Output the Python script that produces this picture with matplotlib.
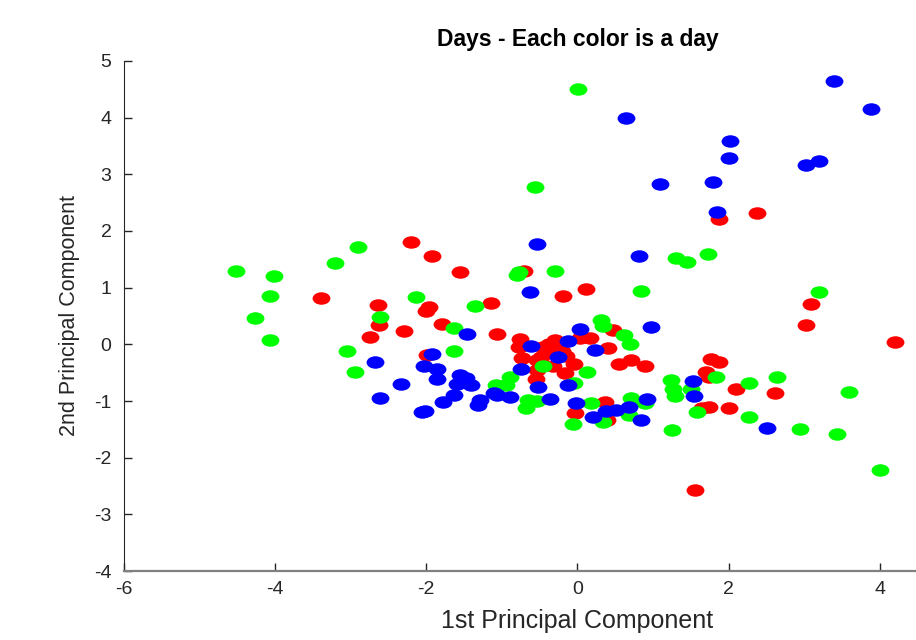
import numpy as np
import matplotlib
matplotlib.use("Agg")
import matplotlib.pyplot as plt
from matplotlib.path import Path
from matplotlib.markers import MarkerStyle
from matplotlib.transforms import Affine2D

plt.rcParams['font.family'] = ['Liberation Sans', 'DejaVu Sans']
plt.rcParams['axes.unicode_minus'] = False

# Day 1 (red)
red_x = [-2.20, -1.93, -1.56, -3.40, -2.64, -1.97, -2.00, -2.62, -2.75, -2.30,
         -1.79, -1.14, -1.07, -1.99, -0.71, -0.19, 0.11, -0.76, -0.77, -0.37,
         -0.26, -0.41, -0.20, -0.15, -0.04, -0.73, -0.54, -0.32, -0.17, -0.55,
         0.04, 0.16, 0.47, 0.40, 0.55, 0.71, 0.89, 0.36, -0.03, 0.39,
         1.77, 1.87, 1.70, 1.74, 2.10, 1.74, 1.65, 2.00, 1.87, 2.37,
         3.09, 3.02, 4.20, 2.61, 1.55, -0.45, -0.30, -0.53, -0.48]
red_y = [1.80, 1.55, 1.28, 0.82, 0.69, 0.65, 0.59, 0.35, 0.13, 0.24,
         0.36, 0.73, 0.19, -0.19, 1.30, 0.85, 0.97, 0.09, -0.04, 0.01,
         0.05, -0.11, -0.11, -0.21, -0.34, -0.24, -0.28, -0.38, -0.51, -0.61,
         0.12, 0.12, 0.25, -0.06, -0.34, -0.28, -0.39, -1.01, -1.22, -1.33,
         -0.26, -0.32, -0.48, -0.57, -0.79, -1.10, -1.12, -1.13, 2.22, 2.31,
         0.71, 0.35, 0.05, -0.85, -2.57, -0.05, 0.08, -0.45, -0.22]

# Day 2 (green)
green_x = [-4.52, -4.01, -4.07, -4.27, -4.07, -2.91, -3.21, -2.13, -2.61, -1.35,
           -1.64, -1.63, -3.05, -2.94, -0.80, -0.77, -0.30, -0.56, 0.01, 0.84,
           1.31, 1.45, 1.73, 3.19, 0.31, 0.34, 0.61, 0.70, -0.46, 0.13,
           -0.04, -0.89, -0.95, -1.08, -0.66, -0.54, -0.68, 0.18, 0.71, 0.68,
           0.34, -0.06, 0.89, 1.24, 1.26, 1.29, 1.50, 1.83, 1.58, 1.25,
           2.27, 2.64, 3.60, 2.27, 2.94, 3.43, 4.00]
green_y = [1.29, 1.20, 0.86, 0.46, 0.08, 1.71, 1.43, 0.84, 0.48, 0.68,
           0.28, -0.12, -0.11, -0.49, 1.22, 1.27, 1.29, 2.77, 4.51, 0.94,
           1.52, 1.45, 1.60, 0.92, 0.43, 0.32, 0.16, 0.00, -0.38, -0.48,
           -0.68, -0.58, -0.72, -0.72, -0.98, -1.00, -1.13, -1.04, -0.94, -1.25,
           -1.37, -1.41, -1.03, -0.63, -0.78, -0.91, -0.78, -0.57, -1.19, -1.51,
           -0.68, -0.58, -0.84, -1.29, -1.49, -1.58, -2.22]

# Day 3 (blue)
blue_x = [-2.68, -2.61, -2.33, -2.03, -1.93, -1.86, -1.86, -2.06, -2.02, -1.78,
          -1.64, -1.60, -1.55, -1.48, -1.41, -1.46, -1.32, -1.29, -1.11, -1.06,
          -0.89, -0.75, -0.62, -0.52, -0.36, -0.26, -0.13, -0.13, 0.04, -0.02,
          0.21, 0.23, 0.38, 0.51, 0.68, 0.84, 0.92, 0.97, 1.53, 1.54,
          2.51, -0.63, -0.53, 0.81, 0.64, 1.09, 1.79, 1.85, 2.02, 2.00,
          3.02, 3.19, 3.40, 3.89]
blue_y = [-0.32, -0.94, -0.70, -0.39, -0.17, -0.44, -0.62, -1.19, -1.17, -1.02,
          -0.89, -0.70, -0.54, -0.59, -0.71, 0.19, -1.07, -0.98, -0.86, -0.90,
          -0.93, -0.43, -0.03, -0.75, -0.96, -0.23, -0.72, 0.06, 0.27, -1.03,
          -1.28, -0.10, -1.17, -1.16, -1.10, -1.34, -0.97, 0.31, -0.64, -0.92,
          -1.47, 0.93, 1.77, 1.56, 3.99, 2.83, 2.86, 2.34, 3.58, 3.29,
          3.17, 3.23, 4.64, 4.15]

x_ticks = [-6, -4, -2, 0, 2, 4]
y_ticks = [-4, -3, -2, -1, 0, 1, 2, 3, 4, 5]

# marcador eliptico (la imagen original esta estirada horizontalmente)
circ = Path.unit_circle()
elipse = MarkerStyle(Path(Affine2D().scale(1.43, 1.0).transform(circ.vertices), circ.codes))

fig = plt.figure(figsize=(9.16, 6.4), dpi=100)
ax = fig.add_axes([0.1354, 0.1078, 0.990, 0.7969])

ax.scatter(red_x, red_y, s=165, marker=elipse, color=(1, 0, 0), linewidths=0)
ax.scatter(green_x, green_y, s=165, marker=elipse, color=(0, 1, 0), linewidths=0)
ax.scatter(blue_x, blue_y, s=165, marker=elipse, color=(0, 0, 1), linewidths=0)

ax.set_xlim(-6, 6)
ax.set_ylim(-4, 5)
ax.set_xticks(x_ticks)
ax.set_yticks(y_ticks)

for lado in ['top', 'right']:
    ax.spines[lado].set_visible(False)
ax.spines['left'].set_color('#262626')
ax.spines['bottom'].set_color('#808080')
ax.spines['bottom'].set_linewidth(1.6)
ax.tick_params(direction='in', length=6, colors='#262626', labelsize=14, width=1)
ax.tick_params(axis='x', pad=7)
ax.tick_params(axis='y', pad=9)

ax.set_xlabel('1st Principal Component', fontsize=18, color='#262626', labelpad=8)
ax.set_ylabel('2nd Principal Component', fontsize=15.5, color='#262626', labelpad=10)
ax.set_title('Days - Each color is a day', fontsize=16.5, fontweight='bold', pad=11)

fig.savefig('out.png', dpi=100)
